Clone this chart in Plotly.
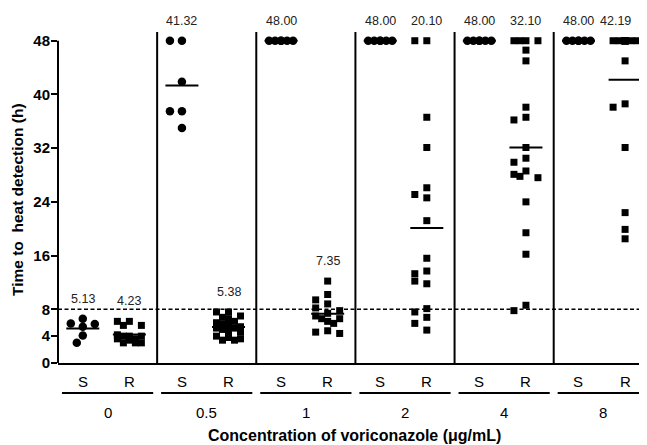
import numpy as np
import plotly.graph_objects as go

# ---------------- data ----------------
groups = ["0", "0.5", "1", "2", "4", "8"]
strain_labels = ["S", "R"]

s_0 = [6.6, 5.9, 5.8, 5.4, 4.1, 3.0]
s_05 = [48, 48, 41.9, 37.5, 37.5, 35.0]
s_1 = [48, 48, 48, 48, 48, 48]
s_2 = [48, 48, 48, 48, 48, 48]
s_4 = [48, 48, 48, 48, 48, 48]
s_8 = [48, 48, 48, 48, 48, 48]

r_0 = [6.2, 6.2, 5.6, 5.6, 4.0, 4.2, 4.0, 4.0, 3.6, 3.6, 3.4, 3.0, 3.0, 3.0]
r_05 = [7.6, 7.6, 7.0, 6.8, 6.6, 6.2, 6.0, 5.8, 5.6, 5.4, 5.2, 5.2, 5.0, 4.8,
        4.6, 4.0, 3.8, 3.6, 3.4, 3.4]
r_1 = [12.2, 10.2, 9.4, 8.8, 8.2, 7.8, 7.4, 7.0, 6.6, 6.6, 6.2, 5.9, 4.8, 4.6, 4.4]
r_2 = [48, 48, 36.6, 32.1, 26.1, 25.1, 24.6, 21.2, 15.6, 13.7, 13.3, 11.8, 12.2,
       8.1, 7.6, 6.8, 5.9, 4.9]
r_4 = [48, 48, 48, 48, 46.6, 45.0, 38.1, 36.6, 36.2, 32.1, 30.5, 29.9, 28.6,
       28.1, 27.6, 27.8, 24.0, 19.4, 16.2, 8.6, 7.8]
r_8 = [48, 48, 48, 48, 48, 48, 48, 48, 48, 48, 48, 48, 48, 48,
       45.0, 38.6, 38.1, 32.1, 22.4, 19.9, 18.5]

s_mean_labels = ["5.13", "41.32", "48.00", "48.00", "48.00", "48.00"]
r_mean_labels = ["4.23", "5.38", "7.35", "20.10", "32.10", "42.19"]

y_ticks = [0, 4, 8, 16, 24, 32, 40, 48]
threshold = 8

s_data = [s_0, s_05, s_1, s_2, s_4, s_8]
r_data = [r_0, r_05, r_1, r_2, r_4, r_8]

# ---------------- layout geometry ----------------
BODY = 8  # default page margin around the plot div
W, H = 647 - BODY, 445 - BODY
PLOT_L, PLOT_T, PLOT_B = 58, 32, 363  # page pixels
ML, MR, MT = PLOT_L - BODY, 0, PLOT_T - BODY
PH = PLOT_B - PLOT_T
MB = H - MT - PH
PW = W - ML - MR
XMAX = 5.941
YMAX = 49.3
PX_X = PW / XMAX
PX_Y = PH / YMAX
POS = {"S": 0.25, "R": 0.72}
FONT = "Liberation Sans, Arial, sans-serif"


def swarm(vals, size, square):
    placed = []
    offs = []
    cands = [0, -6, 6, -12, 12]
    for v in vals:
        y = v * PX_Y
        chosen, bestd, bestc = None, -1, 0
        for c in cands:
            if placed:
                if square:
                    d = min(max(abs(c - px), abs(y - py)) for px, py in placed)
                else:
                    d = min(np.hypot(c - px, y - py) for px, py in placed)
            else:
                d = 1e9
            if d >= size:
                chosen = c
                break
            if d > bestd:
                bestd, bestc = d, c
        if chosen is None:
            chosen = bestc
        placed.append((chosen, y))
        offs.append(chosen / PX_X)
    return offs


fig = go.Figure()
annotations = []
shapes = []

for gi, g in enumerate(groups):
    for sk, data, labels, sym, msize in (
        ("S", s_data, s_mean_labels, "circle", 8.5),
        ("R", r_data, r_mean_labels, "square", 7),
    ):
        vals = data[gi]
        c = gi + POS[sk]
        m = float(labels[gi])
        fig.add_trace(go.Scatter(
            x=[c - 16.5 / PX_X, c + 16.5 / PX_X], y=[m, m], mode="lines",
            line=dict(color="black", width=2), showlegend=False,
            hoverinfo="skip", cliponaxis=False))
        offs = swarm(vals, msize, sym == "square")
        fig.add_trace(go.Scatter(
            x=[c + o for o in offs], y=vals, mode="markers",
            marker=dict(symbol=sym, size=msize, color="black",
                        line=dict(width=0)),
            showlegend=False, cliponaxis=False))
        last = (gi == len(groups) - 1 and sk == "R")
        annotations.append(dict(
            x=c, y=max(vals), xref="x", yref="y", text=labels[gi],
            showarrow=False, yanchor="middle", yshift=20,
            xshift=-10 if last else 0,
            font=dict(family=FONT, size=12.5, color="#222")))
        annotations.append(dict(
            x=c, y=0, xref="x", yref="paper", text=sk, showarrow=False,
            yanchor="middle", yshift=-18,
            font=dict(family=FONT, size=15, color="black")))
    annotations.append(dict(
        x=gi + 0.5, y=0, xref="x", yref="paper", text=g, showarrow=False,
        yanchor="middle", yshift=-49,
        font=dict(family=FONT, size=15, color="black")))
    yu = -(393 - PLOT_B) / PH
    shapes.append(dict(type="line", xref="paper", yref="paper",
                       x0=(gi + 0.04) / XMAX, x1=(gi + 0.96) / XMAX,
                       y0=yu, y1=yu, line=dict(color="black", width=2)))
    if gi > 0:
        shapes.append(dict(type="line", xref="x", yref="paper",
                           x0=gi, x1=gi, y0=0, y1=1,
                           line=dict(color="black", width=2)))

shapes.append(dict(type="line", xref="paper", yref="y", x0=0, x1=0,
                   y0=0, y1=max(y_ticks), line=dict(color="black", width=2)))
shapes.append(dict(type="line", xref="paper", yref="y", x0=0, x1=1,
                   y0=threshold, y1=threshold,
                   line=dict(color="black", width=1.5, dash="4px,2.5px")))

annotations.append(dict(
    x=(354.6 - PLOT_L) / PW, y=0, xref="paper", yref="paper",
    text="Concentration of voriconazole (μg/mL)", showarrow=False,
    yanchor="middle", yshift=-(435 - PLOT_B),
    font=dict(family=FONT, size=16, color="black", weight="bold")))
annotations.append(dict(
    x=-(PLOT_L - 17) / PW, y=(PLOT_B - 200) / PH, xref="paper", yref="paper",
    text="Time to\u00a0 heat detection (h)", showarrow=False, textangle=-90,
    xanchor="center", yanchor="middle",
    font=dict(family=FONT, size=15.5, color="black", weight="bold")))

fig.update_layout(
    width=W, height=H, autosize=False,
    margin=dict(l=ML, r=MR, t=MT, b=MB, pad=0),
    plot_bgcolor="white", paper_bgcolor="white",
    showlegend=False,
    xaxis=dict(range=[0, XMAX], showgrid=False, zeroline=False,
               showticklabels=False, ticks="", showline=True,
               linecolor="black", linewidth=2, automargin=False),
    yaxis=dict(range=[0, YMAX], showgrid=False, zeroline=False,
               tickvals=y_ticks, ticktext=[str(t) for t in y_ticks],
               ticks="outside", ticklen=6, tickwidth=2, tickcolor="black",
               ticklabelstandoff=-2,
               tickfont=dict(family=FONT, size=15, color="black",
                             weight="bold"),
               showline=False, automargin=False),
    annotations=annotations,
    shapes=shapes,
)

fig.write_html("out.html")
